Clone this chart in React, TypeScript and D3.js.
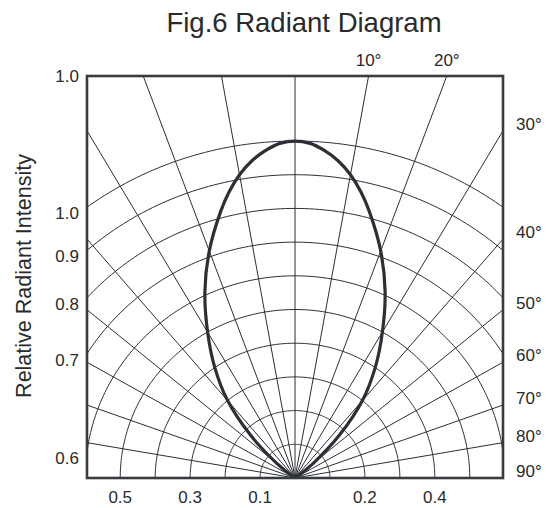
import React, { useEffect, useRef } from 'react';
import * as d3 from 'd3';

// half of the (symmetric) radiation pattern, angle in degrees -> relative intensity
const patternAngles = [0, 2.5, 5, 7.5, 10, 12.5, 15, 20, 25, 30, 35, 40, 45, 50, 55, 60];
const patternIntensity = [1.0, 0.994, 0.975, 0.949, 0.914, 0.87, 0.82, 0.717, 0.61, 0.5, 0.4, 0.3, 0.18, 0.07, 0.01, 0];

const arcRadii = [0.1, 0.2, 0.3, 0.4, 0.5, 0.6, 0.7, 0.8, 0.9, 1.0];
const spokeAngles = [-80, -70, -60, -50, -40, -30, -20, -10, 0, 10, 20, 30, 40, 50, 60, 70, 80];

const topAngleLabels = [10, 20];
const rightAngleLabels = [30, 40, 50, 60, 70, 80, 90];
const leftIntensityLabels = [1.0, 0.9, 0.8, 0.7, 0.6];
const bottomLeftLabels = [0.5, 0.3, 0.1];
const bottomRightLabels = [0.2, 0.4];

const FONT = '"Liberation Sans", Arial, sans-serif';
const INK = '#2c2f35';

const RadiantDiagram: React.FC = () => {
  const svgRef = useRef<SVGSVGElement | null>(null);

  useEffect(() => {
    if (!svgRef.current) return;
    const svg = d3.select(svgRef.current);
    svg.selectAll('*').remove();

    const width = 555;
    const height = 508;
    const box = { left: 87, right: 503, top: 76, bottom: 478 };
    const halfU = 0.595;
    const maxV = 1.193;

    svg.attr('width', width).attr('height', height);

    const x = d3.scaleLinear().domain([-halfU, halfU]).range([box.left, box.right]);
    const y = d3.scaleLinear().domain([0, maxV]).range([box.bottom, box.top]);
    const rad = (deg: number) => (deg * Math.PI) / 180;
    const px = (r: number, deg: number) => x(r * Math.sin(rad(deg)));
    const py = (r: number, deg: number) => y(r * Math.cos(rad(deg)));

    svg.append('defs').append('clipPath').attr('id', 'plot-clip')
      .append('rect')
      .attr('x', box.left).attr('y', box.top)
      .attr('width', box.right - box.left).attr('height', box.bottom - box.top);

    const grid = svg.append('g').attr('clip-path', 'url(#plot-clip)');

    // concentric intensity arcs
    const arcLine = d3.line<number>();
    const sweep = d3.range(-90, 90.5, 1);
    grid.selectAll('.arc')
      .data(arcRadii)
      .enter().append('path')
      .attr('class', 'arc')
      .attr('d', r => arcLine(sweep.map(a => [px(r, a), py(r, a)])))
      .attr('fill', 'none')
      .attr('stroke', INK)
      .attr('stroke-width', 1);

    // angle spokes
    grid.selectAll('.spoke')
      .data(spokeAngles)
      .enter().append('line')
      .attr('class', 'spoke')
      .attr('x1', x(0)).attr('y1', y(0))
      .attr('x2', a => px(3, a)).attr('y2', a => py(3, a))
      .attr('stroke', INK)
      .attr('stroke-width', 1);

    // radiation pattern
    const n = patternAngles.length;
    const full = [
      ...patternAngles.slice(1).reverse().map((a, i) => ({ a: -a, v: patternIntensity[n - 1 - i] })),
      ...patternAngles.map((a, i) => ({ a, v: patternIntensity[i] })),
    ];
    const curve = d3.line<{ a: number; v: number }>()
      .x(d => px(d.v, d.a))
      .y(d => py(d.v, d.a))
      .curve(d3.curveCatmullRom.alpha(0.5));
    svg.append('path')
      .datum(full)
      .attr('d', curve)
      .attr('fill', 'none')
      .attr('stroke', INK)
      .attr('stroke-width', 3.2)
      .attr('stroke-linejoin', 'round');

    // frame
    svg.append('rect')
      .attr('x', box.left).attr('y', box.top)
      .attr('width', box.right - box.left).attr('height', box.bottom - box.top)
      .attr('fill', 'none')
      .attr('stroke', '#383b40')
      .attr('stroke-width', 2.6);

    const txt = svg.append('g')
      .attr('font-family', FONT)
      .attr('fill', '#2a2a2a');

    txt.append('text')
      .attr('x', 304).attr('y', 32)
      .attr('text-anchor', 'middle')
      .attr('font-size', 27.5)
      .text('Fig.6 Radiant Diagram');

    txt.append('text')
      .attr('transform', `translate(31,276) rotate(-90)`)
      .attr('text-anchor', 'middle')
      .attr('font-size', 21.5)
      .text('Relative Radiant Intensity');

    // angle labels on the top edge
    txt.selectAll('.top-angle')
      .data(topAngleLabels)
      .enter().append('text')
      .attr('x', a => x(maxV * Math.tan(rad(a))))
      .attr('y', box.top - 10)
      .attr('text-anchor', 'middle')
      .attr('font-size', 17)
      .text(a => `${a}°`);

    // angle labels on the right edge
    txt.selectAll('.right-angle')
      .data(rightAngleLabels)
      .enter().append('text')
      .attr('x', box.right + 13)
      .attr('y', a => (a === 90 ? y(0) : y(halfU / Math.tan(rad(a)))) - 7)
      .attr('dy', '0.35em')
      .attr('font-size', 17)
      .text(a => `${a}°`);

    // intensity labels on the left edge (where arcs meet the frame)
    txt.append('text')
      .attr('x', box.left - 8).attr('y', box.top)
      .attr('dy', '0.35em')
      .attr('text-anchor', 'end')
      .attr('font-size', 17)
      .text('1.0');
    txt.selectAll('.left-int')
      .data(leftIntensityLabels)
      .enter().append('text')
      .attr('x', box.left - 8)
      .attr('y', r => y(Math.sqrt(Math.max(r * r - halfU * halfU, 0))) + 6)
      .attr('dy', '0.35em')
      .attr('text-anchor', 'end')
      .attr('font-size', 17)
      .text(r => r.toFixed(1));

    // intensity labels under the baseline
    const bottom = [
      ...bottomLeftLabels.map(r => ({ r, pos: -r })),
      ...bottomRightLabels.map(r => ({ r, pos: r })),
    ];
    txt.selectAll('.bottom-int')
      .data(bottom)
      .enter().append('text')
      .attr('x', d => x(d.pos))
      .attr('y', box.bottom + 25)
      .attr('text-anchor', 'middle')
      .attr('font-size', 17)
      .text(d => d.r.toFixed(1));
  }, []);

  return <svg ref={svgRef} style={{ position: 'absolute', left: 0, top: 0, background: '#fff' }}></svg>;
};

export default function App() {
  return <RadiantDiagram />;
}
